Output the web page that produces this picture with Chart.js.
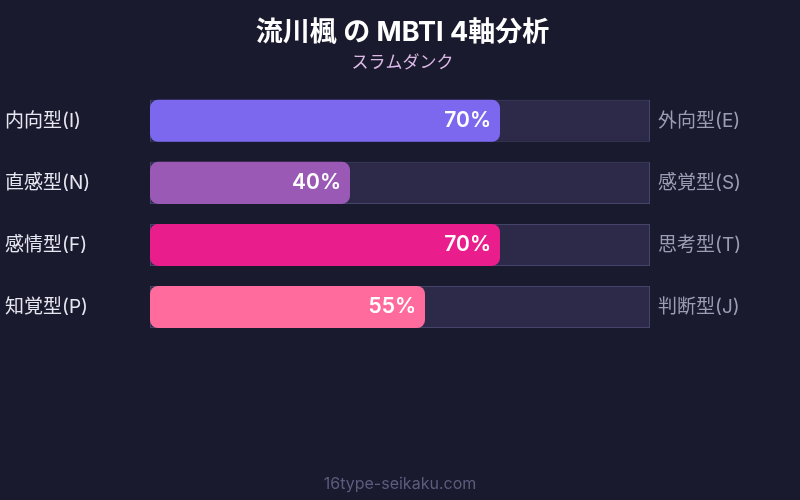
<!DOCTYPE html>
<html>
<head>
<meta charset="utf-8">
<script src="https://cdn.jsdelivr.net/npm/chart.js@4"></script>
<style>
  html, body { margin: 0; padding: 0; background: #1a1a2e; }
  #wrap { width: 800px; height: 500px; }
</style>
</head>
<body>
<div id="wrap"><canvas id="canvas"></canvas></div>
<script>
const leftLabels = ['内向型(I)', '直感型(N)', '感情型(F)', '知覚型(P)'];
const rightLabels = ['外向型(E)', '感覚型(S)', '思考型(T)', '判断型(J)'];
const values = [70, 40, 70, 55];
const track = [100, 100, 100, 100];
const barColors = ['#7b68ee', '#9b59b6', '#e91e8c', '#ff6b9d'];

const FONT = "Inter, 'Noto Sans CJK JP', sans-serif";

// percentage text inside each bar + footer
const valueLabels = {
  id: 'valueLabels',
  afterDatasetsDraw(chart) {
    const ctx = chart.ctx;
    const meta = chart.getDatasetMeta(1);
    ctx.save();
    ctx.font = "600 21px " + FONT;
    ctx.fillStyle = '#ffffff';
    ctx.textAlign = 'right';
    ctx.textBaseline = 'middle';
    meta.data.forEach((bar, i) => {
      ctx.fillText(values[i] + '%', bar.x - 9, bar.y);
    });
    ctx.font = "16px " + FONT;
    ctx.fillStyle = '#5c5c7e';
    ctx.textAlign = 'center';
    ctx.fillText('16type-seikaku.com', chart.width / 2, 484);
    ctx.restore();
  }
};

new Chart(document.getElementById('canvas').getContext('2d'), {
  type: 'bar',
  data: {
    labels: leftLabels,
    datasets: [
      {
        data: track,
        backgroundColor: '#2c2a48',
        borderColor: '#46446a',
        borderWidth: 1,
        borderSkipped: false,
        order: 2
      },
      {
        data: values,
        backgroundColor: barColors,
        borderWidth: 0,
        borderRadius: 8,
        borderSkipped: false,
        order: 1
      }
    ]
  },
  options: {
    indexAxis: 'y',
    responsive: true,
    maintainAspectRatio: false,
    animation: false,
    layout: { padding: { top: 0, bottom: 162, left: 5, right: 0 } },
    datasets: {
      bar: { grouped: false, barPercentage: 42 / 62, categoryPercentage: 1 }
    },
    plugins: {
      legend: { display: false },
      tooltip: { enabled: false },
      title: {
        display: true,
        text: '流川楓 の MBTI 4軸分析',
        color: '#ffffff',
        font: { family: FONT, size: 27, weight: 'bold' },
        padding: { top: 17, bottom: 3 }
      },
      subtitle: {
        display: true,
        text: 'スラムダンク',
        color: '#dcb8e6',
        font: { family: FONT, size: 17 },
        padding: { top: 0, bottom: 17 }
      }
    },
    scales: {
      x: {
        min: 0,
        max: 100,
        display: false
      },
      y: {
        position: 'left',
        grid: { display: false, drawTicks: false },
        border: { display: false },
        ticks: {
          color: '#e6e6f0',
          font: { family: FONT, size: 19 },
          crossAlign: 'far',
          padding: 0
        },
        afterFit(scale) { scale.width = 145; }
      },
      y2: {
        type: 'category',
        labels: rightLabels,
        position: 'right',
        grid: { display: false, drawTicks: false },
        border: { display: false },
        ticks: {
          color: '#9c9cb4',
          font: { family: FONT, size: 19 },
          crossAlign: 'near',
          padding: 8
        },
        afterFit(scale) { scale.width = 150; }
      }
    }
  },
  plugins: [valueLabels]
});
</script>
</body>
</html>
